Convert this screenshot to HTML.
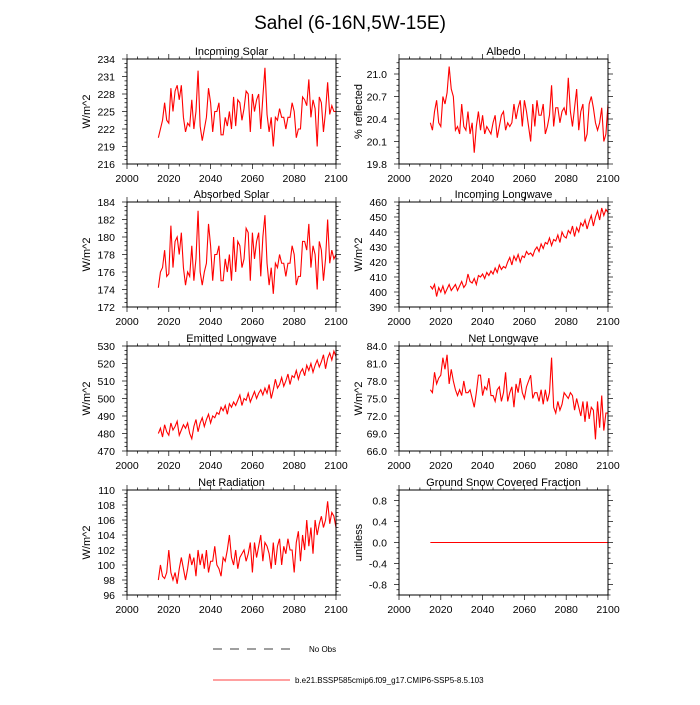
<!DOCTYPE html>
<html><head><meta charset="utf-8"><style>
body{margin:0;background:#fff;font-family:"Liberation Sans",sans-serif}
svg text{font-family:"Liberation Sans",sans-serif}
</style></head><body>
<svg id="s" width="700" height="700" viewBox="0 0 700 700">
<text x="350" y="29" text-anchor="middle" font-size="19">Sahel (6-16N,5W-15E)</text>
<g>
<line x1="213" y1="649" x2="290" y2="649" stroke="#000" stroke-width="0.8" stroke-dasharray="9,8"/>
<text x="309" y="652" font-size="8">No Obs</text>
<line x1="213" y1="680" x2="290" y2="680" stroke="#f00" stroke-width="0.8"/>
<text x="295" y="683" font-size="8">b.e21.BSSP585cmip6.f09_g17.CMIP6-SSP5-8.5.103</text>
</g>
</svg>
<script>
const years=[];for(let y=2015;y<=2100;y++)years.push(y);
const xTicks=[2000,2020,2040,2060,2080,2100];
const incomingSolar=[220.5,222,223.5,226.5,223.5,223,229,225,228.5,229.5,227,229.5,224,221.5,223,222.5,227,222,225,232,222.5,220,222,224,229,226.5,221.5,225,225,226.5,221,221,224,222.5,225,222,227.5,222.5,227,226.5,223.5,225.5,228.5,228,221.5,228,225,227,228,222,227.5,232.5,224.5,221.5,224,219,224,223.5,225.5,224,224,222,224,224,226.5,225,220.5,222,222,227.5,227,226,230.5,224,227,225.5,219,227.5,226.5,221.5,225,230,224.5,226,225,225];
const albedo=[20.35,20.25,20.5,20.65,20.35,20.3,20.7,20.6,20.75,21.1,20.8,20.7,20.25,20.3,20.2,20.6,20.3,20.25,20.5,20.2,20.35,19.95,20.3,20.5,20.25,20.45,20.2,20.3,20.25,20.2,20.35,20.45,20.15,20.3,20.45,20.5,20.25,20.35,20.3,20.35,20.6,20.4,20.55,20.65,20.3,20.65,20.5,20.3,20.1,20.6,20.3,20.65,20.45,20.45,20.6,20.2,20.3,20.45,20.85,20.3,20.55,20.55,20.35,20.5,20.55,20.45,20.95,20.5,20.3,20.55,20.8,20.25,20.5,20.6,20.1,20.2,20.6,20.7,20.55,20.35,20.25,20.35,20.55,20.1,20.2,20.6];
const absorbedSolar=[174.2,176,176.5,178.5,175.5,175.8,181.3,176.5,179.5,180,178,180.5,176.5,174.5,176,175.5,179,175,177.5,183,176,174.5,176,177,181.5,179,175,178,178,179,175,175,177.5,176,178,175,180,176,179.5,179,176.5,177.5,181,180.5,175,180.5,177.5,179.5,180.5,175.5,180,182.5,177,174.5,176.5,173.5,177,176.5,178,177,177,175.5,177,177,179,178,174.5,175.5,175.5,179.5,179.5,178.5,181.5,176.5,179,178,174,179.5,178.5,175,177.5,182,177,178.5,177.5,178];
const incomingLW=[404,402,405,397,403,400,404,399,402,405,401,403,405,401,404,407,403,405,412,407,406,409,405,411,410,412,409,413,411,414,412,416,413,418,415,417,416,420,423,418,424,421,425,420,424,423,427,425,426,424,428,430,427,432,429,433,432,436,431,435,434,438,433,440,437,436,441,439,444,437,443,440,446,444,448,442,447,451,444,450,454,448,456,451,455,453];
const emittedLW=[480,483,478,485,481,479,486,482,484,487,479,482,485,483,486,480,477,484,488,481,486,489,484,488,491,486,490,489,492,491,495,493,496,491,497,495,498,496,499,502,496,500,499,503,498,501,504,500,503,505,502,506,503,508,500,505,511,506,508,512,507,510,514,508,513,512,516,511,515,517,513,519,516,520,515,519,522,518,521,525,517,523,526,522,527,524];
const netLW=[76.5,76,79.5,77.5,78.5,79,82,80,82.5,77.5,80,78,76.5,75.5,76.5,75.5,78,76,76,76.5,75,73.5,76,79,79,75.5,77,76.5,78.5,75.5,75.5,74.5,76.5,77,74.5,76,79.5,74.5,76,77,73.5,77.5,76,78.5,76,75,77,78,79,75,76,76,74.5,76.5,74,76.5,74.5,76,82,73.5,72.5,74.5,73,74,76,75.5,75,76,75.5,73,75,73.5,72,74.5,71,74.5,71.5,73.5,73,68,74.5,70,75.5,69.5,72.5,72.5];
const netRadiation=[98,100,98.5,98.2,99,102,99,98,99,97.5,99.5,101,99.5,98,99.5,101.5,100,101,98.5,102,100,101.5,99.5,102,99,100.5,100.5,102.5,100,99.5,98.5,101,100.5,102,104,101,100,102,99.5,101,101.5,102,100.5,101.5,103,99,103,101,102.5,104,100.5,103,102.5,101.5,99.5,103,100,102.5,103.5,100,102.5,101.5,103.5,102,102,99,103,104.5,100.5,104,102,106,102.5,105,101.5,106,104,105.5,106.5,105,106,108.5,105.5,107,106.5,105];
const snowFrac=new Array(86).fill(0);
const panels=[
 {name:"incoming-solar",title:"Incoming Solar",unit:"W/m^2",data:incomingSolar,min:216,max:234,ticks:[216,219,222,225,228,231,234],fmt:0,col:0,row:0},
 {name:"albedo",title:"Albedo",unit:"% reflected",data:albedo,min:19.8,max:21.2,ticks:[19.8,20.1,20.4,20.7,21.0],fmt:1,col:1,row:0},
 {name:"absorbed-solar",title:"Absorbed Solar",unit:"W/m^2",data:absorbedSolar,min:172,max:184,ticks:[172,174,176,178,180,182,184],fmt:0,col:0,row:1},
 {name:"incoming-longwave",title:"Incoming Longwave",unit:"W/m^2",data:incomingLW,min:390,max:460,ticks:[390,400,410,420,430,440,450,460],fmt:0,col:1,row:1},
 {name:"emitted-longwave",title:"Emitted Longwave",unit:"W/m^2",data:emittedLW,min:470,max:530,ticks:[470,480,490,500,510,520,530],fmt:0,col:0,row:2},
 {name:"net-longwave",title:"Net Longwave",unit:"W/m^2",data:netLW,min:66,max:84,ticks:[66,69,72,75,78,81,84],fmt:1,col:1,row:2},
 {name:"net-radiation",title:"Net Radiation",unit:"W/m^2",data:netRadiation,min:96,max:110,ticks:[96,98,100,102,104,106,108,110],fmt:0,col:0,row:3},
 {name:"ground-snow-covered-fraction",title:"Ground Snow Covered Fraction",unit:"unitless",data:snowFrac,min:-1,max:1,ticks:[-0.8,-0.4,0,0.4,0.8],fmt:1,col:1,row:3}
];
const svg=document.getElementById('s');const NS="http://www.w3.org/2000/svg";
function mk(t,a,p){const e=document.createElementNS(NS,t);for(const k in a)e.setAttribute(k,a[k]);p.appendChild(e);return e;}
const X0=[127,399],W=209,Y0=[59,202,346,490],H=105;
panels.forEach(p=>{
 const g=mk('g',{},svg);
 
 
 const L=X0[p.col],T=Y0[p.row];
 const xs=v=>L+(v-2000)/100*W, ys=v=>T+H-(v-p.min)/(p.max-p.min)*H;
 const t=mk('text',{x:L+W/2,y:T-4,'text-anchor':'middle','font-size':11},g);t.textContent=p.title;
 
 
 const u=mk('text',{x:0,y:0,'text-anchor':'middle','font-size':11,transform:`translate(${L-37},${T+H/2}) rotate(-90)`},g);u.textContent=p.unit;
 
 
 for(let v=2000;v<=2100;v+=5){const x=xs(v),len=(v%20===0)?5:2.5;
  mk('line',{x1:x,y1:T+H,x2:x,y2:T+H+len,stroke:'#000','stroke-width':0.7},g);
  mk('line',{x1:x,y1:T,x2:x,y2:T-len,stroke:'#000','stroke-width':0.7},g);}
 xTicks.forEach(v=>{const tx=mk('text',{x:xs(v),y:T+H+18,'text-anchor':'middle','font-size':10.5},g);tx.textContent=v;
  
  });
 const step=p.ticks[1]-p.ticks[0];
 for(let i=-1;i<p.ticks.length;i++){[0,0.25,0.5,0.75].forEach(f=>{const v=(i<0?p.ticks[0]-step:p.ticks[i])+f*step;if(v>p.max+1e-9||v<p.min-1e-9)return;const y=ys(v),len=f?2.5:5;
  mk('line',{x1:L,y1:y,x2:L-len,y2:y,stroke:'#000','stroke-width':0.7},g);
  mk('line',{x1:L+W,y1:y,x2:L+W+len,y2:y,stroke:'#000','stroke-width':0.7},g);});
  if(i<0)continue;
  const ty=mk('text',{x:L-12,y:ys(p.ticks[i])+4,'text-anchor':'end','font-size':10.5},g);ty.textContent=p.ticks[i].toFixed(p.fmt);
  
  }
 const pts=p.data.map((v,i)=>xs(years[i]).toFixed(2)+','+ys(v).toFixed(2)).join(' ');
 const pl=mk('polyline',{points:pts,fill:'none',stroke:'#f00','stroke-width':1.1},g);
 
 
 const fr=mk('rect',{x:L,y:T,width:W,height:H,fill:'none',stroke:'#000','stroke-width':1},g);
 
 
});
</script>
</body></html>
